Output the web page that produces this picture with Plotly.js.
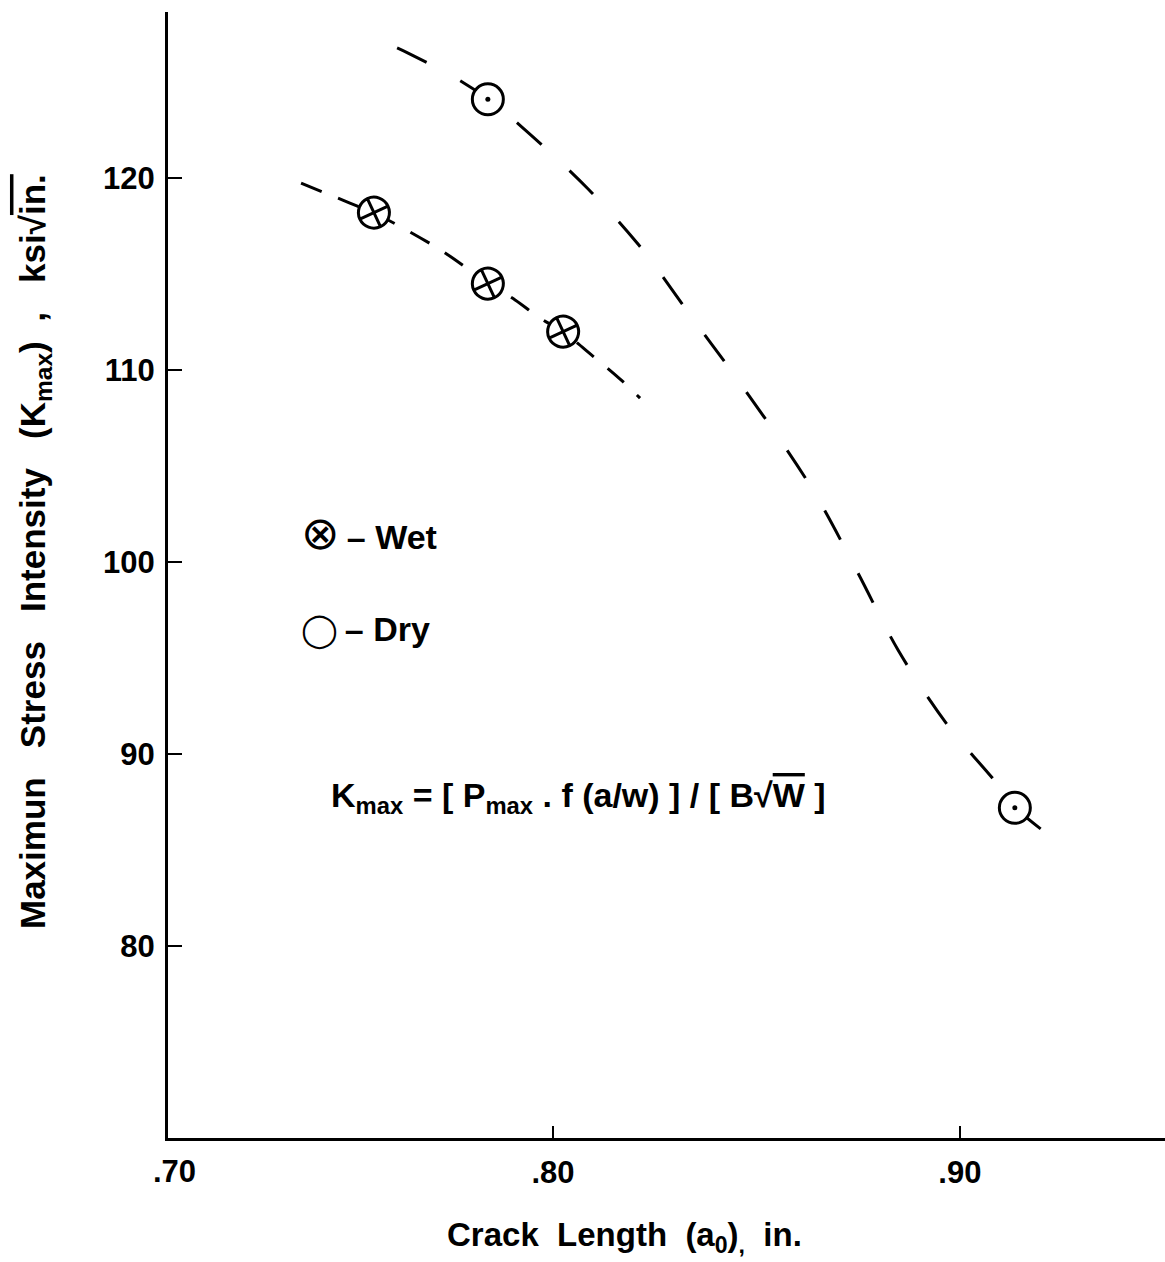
<!DOCTYPE html>
<html>
<head>
<meta charset="utf-8">
<script src="https://cdn.plot.ly/plotly-3.0.1.min.js"></script>
<style>html,body{margin:0;padding:0;background:#fff;}</style>
</head>
<body>
<div id="chart" style="width:1165px;height:1262px;"></div>
<script>
// Measured points
const wetX = [0.756, 0.784, 0.8025];
const wetY = [118.2, 114.5, 112.0];
const dryX = [0.784, 0.9135];
const dryY = [124.1, 87.2];

// Hand-drawn dashed trend curves
const wetCurveX = [0.7381, 0.7435, 0.7501, 0.7560, 0.7649, 0.7735, 0.7840, 0.7907, 0.7968, 0.8025, 0.8098, 0.8165, 0.8214];
const wetCurveY = [119.74, 119.27, 118.70, 118.18, 117.19, 116.10, 114.53, 113.65, 112.71, 111.98, 110.73, 109.53, 108.54];
const dryCurveX = [0.7617, 0.7644, 0.7757, 0.7840, 0.7921, 0.8084, 0.8211, 0.8344, 0.8472, 0.8634, 0.8747, 0.8848, 0.8968, 0.9088, 0.9135, 0.9265];
const dryCurveY = [126.78, 126.51, 125.26, 124.12, 122.71, 119.48, 116.51, 112.66, 108.96, 103.91, 99.53, 95.42, 91.56, 88.54, 87.24, 85.05];

const xTickVals = [0.80, 0.90];
const xTickText = ['.80', '.90'];
const yTickVals = [80, 90, 100, 110, 120];
const yTickText = ['80', '90', '100', '110', '120'];

const FONT = 'Liberation Sans, Arial, Helvetica, sans-serif';
const SP = '\u00a0\u00a0';
const SP3 = '\u00a0\u00a0\u00a0';

const traces = [
  {x: wetCurveX, y: wetCurveY, mode: 'lines', line: {shape: 'spline', color: '#000', width: 3, dash: '22px,18px'}, showlegend: false, hoverinfo: 'skip'},
  {x: dryCurveX, y: dryCurveY, mode: 'lines', line: {shape: 'spline', color: '#000', width: 3, dash: '33px,38px'}, showlegend: false, hoverinfo: 'skip'},
  {x: wetX, y: wetY, mode: 'markers', name: 'Wet', showlegend: false,
   marker: {symbol: 'circle-cross', size: 31, color: '#fff', angle: -25, angleref: 'up', line: {color: '#000', width: 3}}},
  {x: dryX, y: dryY, mode: 'markers', name: 'Dry', showlegend: false,
   marker: {symbol: 'circle', size: 31, color: '#fff', line: {color: '#000', width: 3}}},
  {x: dryX, y: dryY, mode: 'markers', name: 'Dry centre', showlegend: false, hoverinfo: 'skip',
   marker: {symbol: 'circle', size: 5, color: '#000'}}
];

const layout = {
  width: 1165, height: 1262,
  margin: {l: 168, r: 0, t: 12, b: 124},
  paper_bgcolor: '#fff', plot_bgcolor: '#fff',
  font: {family: FONT, size: 28, color: '#000', weight: 'bold'},
  showlegend: false,
  xaxis: {
    range: [0.7054, 0.9504], showgrid: false, zeroline: false,
    showline: true, linecolor: '#000', linewidth: 3,
    ticks: 'inside', ticklen: 12, tickwidth: 2, tickcolor: '#000',
    tickvals: xTickVals, ticktext: xTickText,
    tickfont: {family: FONT, size: 31, color: '#000', weight: 'bold'},
    ticklabelstandoff: 5
  },
  yaxis: {
    range: [70, 128.65], showgrid: false, zeroline: false,
    showline: true, linecolor: '#000', linewidth: 3,
    ticks: 'inside', ticklen: 14, tickwidth: 2, tickcolor: '#000',
    tickvals: yTickVals, ticktext: yTickText,
    tickfont: {family: FONT, size: 31, color: '#000', weight: 'bold'},
    ticklabelstandoff: 4
  },
  annotations: [
    {xref: 'paper', yref: 'paper', x: 0.007, y: 0, yshift: -33, xanchor: 'center', yanchor: 'middle',
     text: '.70', showarrow: false, font: {family: FONT, size: 31, color: '#000', weight: 'bold'}},
    {xref: 'paper', yref: 'paper', x: 0.458, y: -0.0879, xanchor: 'center', yanchor: 'middle',
     text: 'Crack' + SP + 'Length' + SP + '(a<sub>0</sub>)<sub>,</sub>' + SP + 'in.', showarrow: false,
     font: {family: FONT, size: 33, color: '#000', weight: 'bold'}},
    {xref: 'paper', yref: 'paper', x: -0.1334, y: 0.5204, xanchor: 'center', yanchor: 'middle', textangle: -90,
     text: 'Maximun' + SP3 + 'Stress' + SP3 + 'Intensity' + SP3 + '(K<sub>max</sub>)' + SP + ',' + SP3 + 'ksi\u221a<span style="text-decoration:overline">in.</span>',
     showarrow: false, font: {family: FONT, size: 35, color: '#000', weight: 'bold'}},
    {xref: 'paper', yref: 'paper', x: 0.1374, y: 0.5373, xshift: -6, xanchor: 'left', yanchor: 'middle',
     text: '<span style="font-size:46px;font-weight:normal">\u2297</span>\u2009\u2013 Wet', showarrow: false,
     font: {family: FONT, size: 34, color: '#000', weight: 'bold'}},
    {xref: 'paper', yref: 'paper', x: 0.1374, y: 0.4512, xshift: -6, xanchor: 'left', yanchor: 'middle',
     text: '<span style="font-size:33px;font-weight:normal">\u25ef</span>\u2009\u2013 Dry', showarrow: false,
     font: {family: FONT, size: 34, color: '#000', weight: 'bold'}},
    {xref: 'paper', yref: 'paper', x: 0.4122, y: 0.3028, xanchor: 'center', yanchor: 'middle',
     text: 'K<sub>max</sub> = [ P<sub>max</sub> . f (a/w) ] / [ B\u221a<span style="text-decoration:overline">W</span> ]',
     showarrow: false, font: {family: FONT, size: 34, color: '#000', weight: 'bold'}}
  ]
};

Plotly.newPlot('chart', traces, layout, {displayModeBar: false, staticPlot: true});
</script>
</body>
</html>
